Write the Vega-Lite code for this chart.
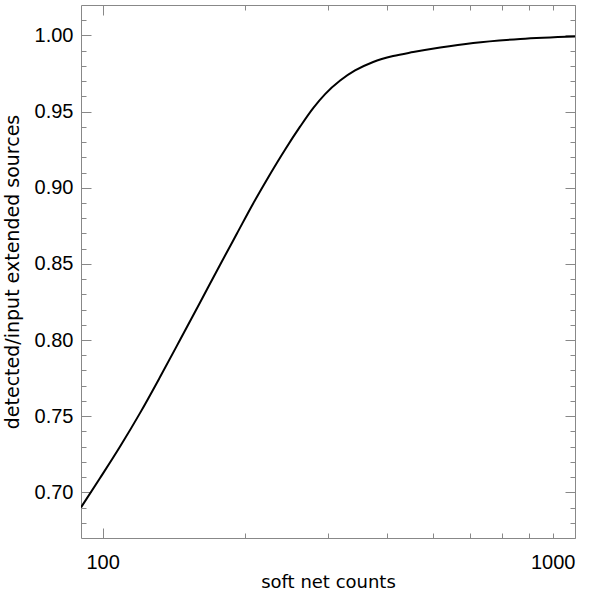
{
  "$schema": "https://vega.github.io/schema/vega-lite/v6.json",
  "autosize": "none",
  "width": 494,
  "height": 533,
  "padding": {"left": 81, "top": 5, "right": 25, "bottom": 53},
  "background": "white",
  "data": {
    "values": [
      {"counts": 90.0, "fraction": 0.6901},
      {"counts": 98.69, "fraction": 0.7092},
      {"counts": 108.8, "fraction": 0.7299},
      {"counts": 119.98, "fraction": 0.7520},
      {"counts": 132.3, "fraction": 0.7757},
      {"counts": 145.8, "fraction": 0.8000},
      {"counts": 160.8, "fraction": 0.8247},
      {"counts": 177.2, "fraction": 0.8493},
      {"counts": 192.6, "fraction": 0.8701},
      {"counts": 208.2, "fraction": 0.8895},
      {"counts": 226.2, "fraction": 0.9089},
      {"counts": 243.3, "fraction": 0.9250},
      {"counts": 261.8, "fraction": 0.9401},
      {"counts": 279.1, "fraction": 0.9523},
      {"counts": 295.8, "fraction": 0.9615},
      {"counts": 318.3, "fraction": 0.9704},
      {"counts": 342.3, "fraction": 0.9770},
      {"counts": 373.9, "fraction": 0.9826},
      {"counts": 412.1, "fraction": 0.9865},
      {"counts": 454.5, "fraction": 0.9891},
      {"counts": 518.4, "fraction": 0.9921},
      {"counts": 608.9, "fraction": 0.9951},
      {"counts": 765.8, "fraction": 0.9977},
      {"counts": 1000.0, "fraction": 0.9993}
    ]
  },
  "config": {
    "view": {"stroke": "#888888", "strokeWidth": 1},
    "axis": {
      "grid": false,
      "domain": false,
      "labelFont": "Liberation Sans",
      "labelFontSize": 20,
      "labelColor": "black",
      "titleFont": "DejaVu Sans",
      "titleFontSize": 19,
      "titleFontWeight": "normal",
      "titleColor": "black",
      "tickColor": "#888888",
      "tickWidth": 1
    }
  },
  "resolve": {"axis": {"x": "independent", "y": "independent"}},
  "layer": [
    {
      "mark": {"type": "line", "color": "black", "strokeWidth": 2, "interpolate": "monotone", "clip": true},
      "encoding": {
        "x": {
          "field": "counts", "type": "quantitative",
          "scale": {"type": "log", "domain": [90, 1000], "nice": false, "zero": false},
          "axis": {"orient": "bottom", "values": [100, 1000], "format": "d", "ticks": false, "tickSize": 0, "labelPadding": 14, "title": "soft net counts", "titleFontSize": 18, "titlePadding": 1}
        },
        "y": {
          "field": "fraction", "type": "quantitative",
          "scale": {"domain": [0.67, 1.02], "nice": false, "zero": false},
          "axis": {"orient": "left", "values": [0.70, 0.75, 0.80, 0.85, 0.90, 0.95, 1.00], "format": ".2f", "ticks": false, "tickSize": 0, "labelPadding": 8, "title": "detected/input extended sources", "titlePadding": 12}
        }
      }
    },
    {
      "mark": {"type": "line", "opacity": 0},
      "encoding": {
        "x": {
          "field": "counts", "type": "quantitative",
          "scale": {"type": "log", "domain": [90, 1000], "nice": false, "zero": false},
          "axis": {"orient": "bottom", "values": [100, 1000], "labels": false, "tickSize": 10, "offset": -10, "title": null}
        },
        "y": {
          "field": "fraction", "type": "quantitative",
          "scale": {"domain": [0.67, 1.02], "nice": false, "zero": false},
          "axis": {"orient": "left", "values": [0.70, 0.75, 0.80, 0.85, 0.90, 0.95, 1.00], "labels": false, "tickSize": 10, "offset": -10, "title": null}
        }
      }
    },
    {
      "mark": {"type": "line", "opacity": 0},
      "encoding": {
        "x": {
          "field": "counts", "type": "quantitative",
          "scale": {"type": "log", "domain": [90, 1000], "nice": false, "zero": false},
          "axis": {"orient": "bottom", "values": [200, 300, 400, 500, 600, 700, 800, 900], "labels": false, "tickSize": 5, "offset": -5, "title": null}
        },
        "y": {
          "field": "fraction", "type": "quantitative",
          "scale": {"domain": [0.67, 1.02], "nice": false, "zero": false},
          "axis": {"orient": "left", "values": [0.68, 0.69, 0.71, 0.72, 0.73, 0.74, 0.76, 0.77, 0.78, 0.79, 0.81, 0.82, 0.83, 0.84, 0.86, 0.87, 0.88, 0.89, 0.91, 0.92, 0.93, 0.94, 0.96, 0.97, 0.98, 0.99, 1.01], "labels": false, "tickSize": 5, "offset": -5, "title": null}
        }
      }
    },
    {
      "mark": {"type": "line", "opacity": 0},
      "encoding": {
        "x": {
          "field": "counts", "type": "quantitative",
          "scale": {"type": "log", "domain": [90, 1000], "nice": false, "zero": false},
          "axis": {"orient": "top", "values": [100, 1000], "labels": false, "tickSize": 10, "offset": -10, "title": null}
        },
        "y": {
          "field": "fraction", "type": "quantitative",
          "scale": {"domain": [0.67, 1.02], "nice": false, "zero": false},
          "axis": {"orient": "right", "values": [0.70, 0.75, 0.80, 0.85, 0.90, 0.95, 1.00], "labels": false, "tickSize": 10, "offset": -10, "title": null}
        }
      }
    },
    {
      "mark": {"type": "line", "opacity": 0},
      "encoding": {
        "x": {
          "field": "counts", "type": "quantitative",
          "scale": {"type": "log", "domain": [90, 1000], "nice": false, "zero": false},
          "axis": {"orient": "top", "values": [200, 300, 400, 500, 600, 700, 800, 900], "labels": false, "tickSize": 5, "offset": -5, "title": null}
        },
        "y": {
          "field": "fraction", "type": "quantitative",
          "scale": {"domain": [0.67, 1.02], "nice": false, "zero": false},
          "axis": {"orient": "right", "values": [0.68, 0.69, 0.71, 0.72, 0.73, 0.74, 0.76, 0.77, 0.78, 0.79, 0.81, 0.82, 0.83, 0.84, 0.86, 0.87, 0.88, 0.89, 0.91, 0.92, 0.93, 0.94, 0.96, 0.97, 0.98, 0.99, 1.01], "labels": false, "tickSize": 5, "offset": -5, "title": null}
        }
      }
    }
  ]
}
